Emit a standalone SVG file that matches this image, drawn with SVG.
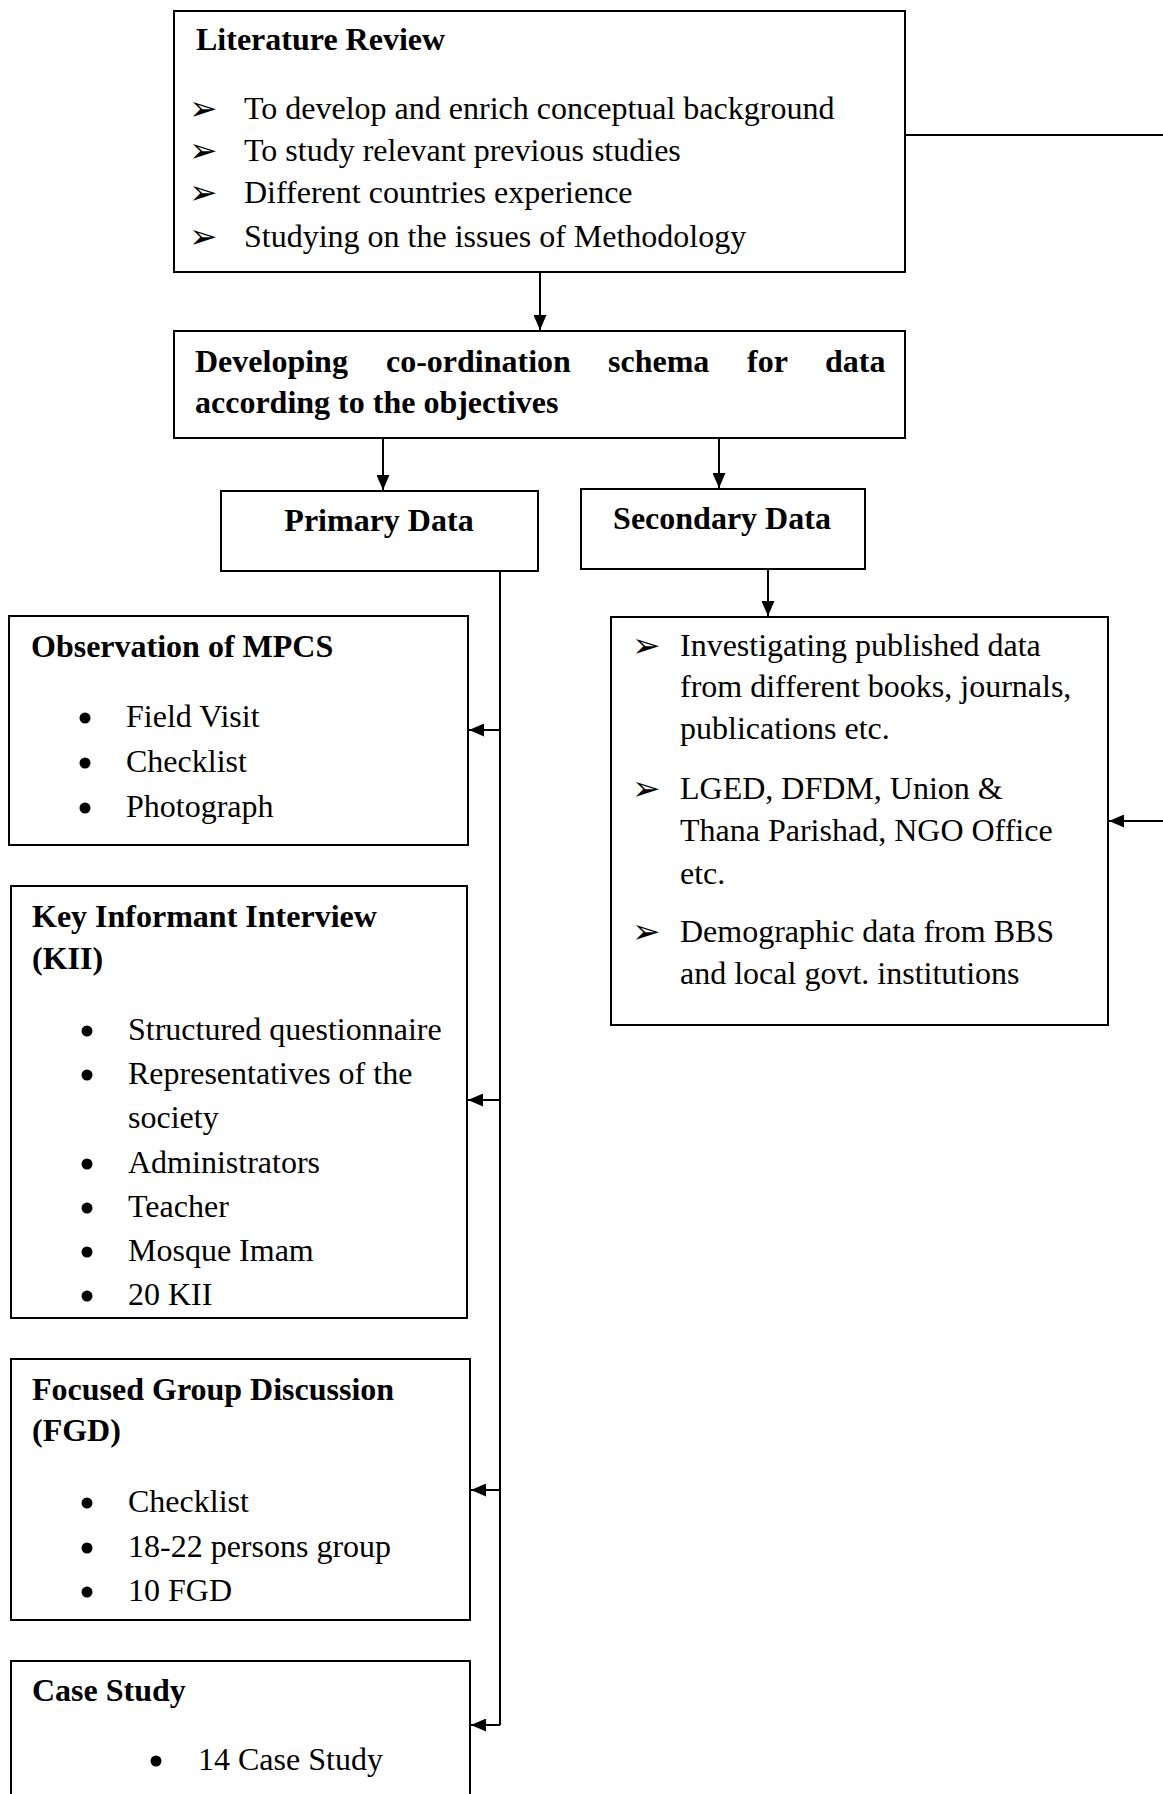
<svg xmlns="http://www.w3.org/2000/svg" width="1163" height="1794" viewBox="0 0 1163 1794">
<style>
.box{fill:#fff;stroke:#000;stroke-width:2}
.t{font-family:"Liberation Serif","Times New Roman",serif;font-size:32px;fill:#000}
.b{font-weight:bold}
.ar{font-family:"DejaVu Sans",sans-serif;font-size:34px;fill:#000}
.dot{fill:#000}
.c{fill:none;stroke:#000;stroke-width:2}
</style>
<defs>
<marker id="ah" markerUnits="userSpaceOnUse" viewBox="0 0 15 13" refX="15" refY="6.5" markerWidth="15" markerHeight="13" orient="auto">
<path d="M0,0 L15,6.5 L0,13 z" fill="#000"/>
</marker>
</defs>
<rect width="1163" height="1794" fill="#fff"/>
<g id="connectors">
<path class="c" d="M540,272 V330" marker-end="url(#ah)"/>
<path class="c" d="M383,438 V490" marker-end="url(#ah)"/>
<path class="c" d="M719,438 V488" marker-end="url(#ah)"/>
<path class="c" d="M768,569 V616" marker-end="url(#ah)"/>
<path class="c" d="M500,570 V1725"/>
<path class="c" d="M500,730 H469" marker-end="url(#ah)"/>
<path class="c" d="M500,1100 H468" marker-end="url(#ah)"/>
<path class="c" d="M500,1490 H471" marker-end="url(#ah)"/>
<path class="c" d="M500,1725 H471" marker-end="url(#ah)"/>
<path class="c" d="M905,135 H1175 V821 H1109" marker-end="url(#ah)"/>
</g>
<g id="literature-review">
<rect class="box" x="174" y="11" width="731" height="261"/>
<text class="t b" x="196" y="50">Literature Review</text>
<text class="ar" x="189" y="120">➢</text>
<text class="t" x="244" y="119">To develop and enrich conceptual background</text>
<text class="ar" x="189" y="162">➢</text>
<text class="t" x="244" y="161">To study relevant previous studies</text>
<text class="ar" x="189" y="204">➢</text>
<text class="t" x="244" y="203">Different countries experience</text>
<text class="ar" x="189" y="248">➢</text>
<text class="t" x="244" y="247">Studying on the issues of Methodology</text>
</g>
<g id="coordination-schema">
<rect class="box" x="174" y="331" width="731" height="107"/>
<text class="t b" y="372"><tspan x="195">Developing</tspan><tspan x="386">co-ordination</tspan><tspan x="608">schema</tspan><tspan x="747">for</tspan><tspan x="825">data</tspan></text>
<text class="t b" x="195" y="413">according to the objectives</text>
</g>
<g id="primary-data">
<rect class="box" x="221" y="491" width="317" height="80"/>
<text class="t b" x="379" y="531" text-anchor="middle">Primary Data</text>
</g>
<g id="secondary-data">
<rect class="box" x="581" y="489" width="284" height="80"/>
<text class="t b" x="722" y="529" text-anchor="middle">Secondary Data</text>
</g>
<g id="secondary-sources">
<rect class="box" x="611" y="617" width="497" height="408"/>
<text class="ar" x="632" y="657">➢</text>
<text class="t" x="680" y="656">Investigating published data</text>
<text class="t" x="680" y="697">from different books, journals,</text>
<text class="t" x="680" y="739">publications etc.</text>
<text class="ar" x="632" y="800">➢</text>
<text class="t" x="680" y="799">LGED, DFDM, Union &amp;</text>
<text class="t" x="680" y="841">Thana Parishad, NGO Office</text>
<text class="t" x="680" y="884">etc.</text>
<text class="ar" x="632" y="943">➢</text>
<text class="t" x="680" y="942">Demographic data from BBS</text>
<text class="t" x="680" y="984">and local govt. institutions</text>
</g>
<g id="observation">
<rect class="box" x="9" y="616" width="459" height="229"/>
<text class="t b" x="31" y="657">Observation of MPCS</text>
<circle class="dot" cx="85" cy="718" r="5.5"/>
<text class="t" x="126" y="727">Field Visit</text>
<circle class="dot" cx="85" cy="763" r="5.5"/>
<text class="t" x="126" y="772">Checklist</text>
<circle class="dot" cx="85" cy="808" r="5.5"/>
<text class="t" x="126" y="817">Photograph</text>
</g>
<g id="kii">
<rect class="box" x="11" y="886" width="456" height="432"/>
<text class="t b" x="32" y="927">Key Informant Interview</text>
<text class="t b" x="32" y="969">(KII)</text>
<circle class="dot" cx="87" cy="1031" r="5.5"/>
<text class="t" x="128" y="1040">Structured questionnaire</text>
<circle class="dot" cx="87" cy="1075" r="5.5"/>
<text class="t" x="128" y="1084">Representatives of the</text>
<text class="t" x="128" y="1128">society</text>
<circle class="dot" cx="87" cy="1164" r="5.5"/>
<text class="t" x="128" y="1173">Administrators</text>
<circle class="dot" cx="87" cy="1208" r="5.5"/>
<text class="t" x="128" y="1217">Teacher</text>
<circle class="dot" cx="87" cy="1252" r="5.5"/>
<text class="t" x="128" y="1261">Mosque Imam</text>
<circle class="dot" cx="87" cy="1296" r="5.5"/>
<text class="t" x="128" y="1305">20 KII</text>
</g>
<g id="fgd">
<rect class="box" x="11" y="1359" width="459" height="261"/>
<text class="t b" x="32" y="1400">Focused Group Discussion</text>
<text class="t b" x="32" y="1441">(FGD)</text>
<circle class="dot" cx="87" cy="1503" r="5.5"/>
<text class="t" x="128" y="1512">Checklist</text>
<circle class="dot" cx="87" cy="1548" r="5.5"/>
<text class="t" x="128" y="1557">18-22 persons group</text>
<circle class="dot" cx="87" cy="1592" r="5.5"/>
<text class="t" x="128" y="1601">10 FGD</text>
</g>
<g id="case-study">
<rect class="box" x="11" y="1661" width="459" height="150"/>
<text class="t b" x="32" y="1701">Case Study</text>
<circle class="dot" cx="156" cy="1761" r="5.5"/>
<text class="t" x="198" y="1770">14 Case Study</text>
</g>
</svg>
